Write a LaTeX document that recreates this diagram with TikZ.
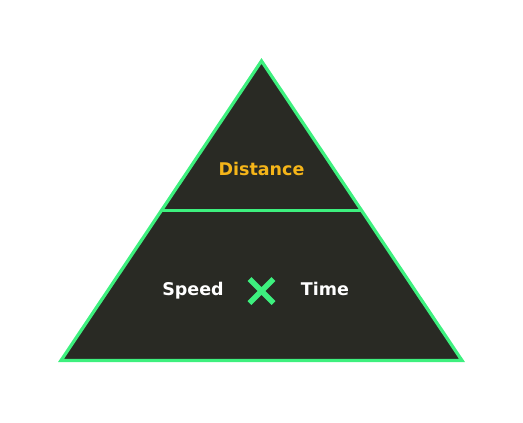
\documentclass[tikz,border=0pt]{standalone}
\usepackage{fontspec}
\setmainfont{DejaVu Sans}
\usetikzlibrary{calc}
\definecolor{boardgreen}{HTML}{3DF07E}
\definecolor{boarddark}{HTML}{292A24}
\definecolor{boardgold}{HTML}{F5B519}
\tikzset{
    word/.style={font=\fontsize{17.5}{20}\selectfont\bfseries,inner sep=0pt,anchor=base},
    edge/.style={draw=boardgreen,line width=3.2pt,line join=miter},
}
\begin{document}
\begin{tikzpicture}[x=1pt,y=-1pt]
    \useasboundingbox (0,0) rectangle (523,423);
    \coordinate (top) at (261.5,61);
    \coordinate (left) at (61,360.5);
    \coordinate (right) at (462,360.5);
    \coordinate (midL) at ($(top)!0.5!(left)$);
    \coordinate (midR) at ($(top)!0.5!(right)$);
    \draw[edge,fill=boarddark] (top) -- (right) -- (left) -- cycle;
    \draw[edge] (midL) -- (midR);
    \node[word,text=boardgold] (dist) at (261.5,175) {Distance};
    \node[word,text=white] (speed) at (193,295) {Speed};
    \node[word,text=white] (time) at (325,295) {Time};
    % multiply sign
    \coordinate (times) at (261.5,291);
    \draw[boardgreen,line width=5.5pt] ($(times)+(-12,-12)$) -- ($(times)+(12,12)$)
        ($(times)+(-12,12)$) -- ($(times)+(12,-12)$);
\end{tikzpicture}
\end{document}
